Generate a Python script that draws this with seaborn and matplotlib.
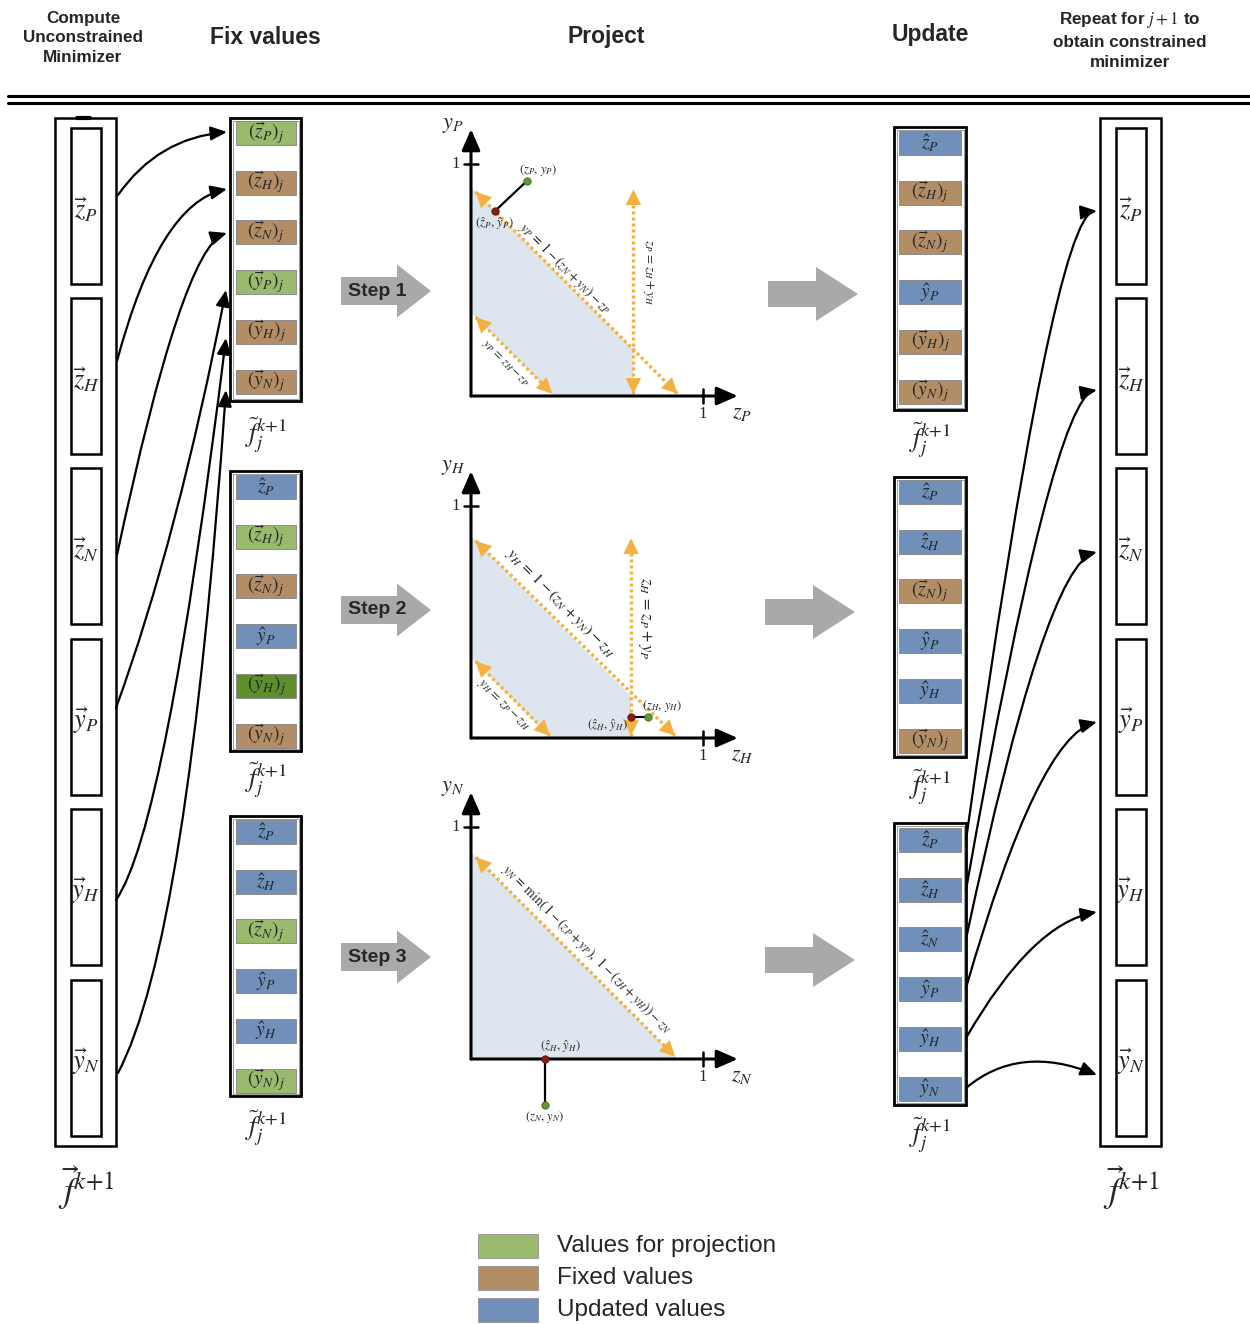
import numpy as np
import pandas as pd
import matplotlib.pyplot as plt
import matplotlib.patches as mpatches
import seaborn as sns

sns.set_theme(style='white')
plt.rcParams['font.family'] = ['Liberation Sans', 'DejaVu Sans']
plt.rcParams['mathtext.fontset'] = 'stix'

W, H = 1250, 1324

GREEN = '#9aba6d'
DGREEN = '#5e8f2c'
BROWN = '#b38d66'
BLUE = '#7090b9'
ORANGE = '#f4b13f'
SHADE = '#dde6ee'
GRAY = '#a9a9a9'
RED = '#8b1d12'
PGREEN = '#5f9a30'

# column headers
headers = ['Compute\nUnconstrained\nMinimizer', 'Fix values', 'Project', 'Update',
           'Repeat for $j+1$ to\nobtain constrained\nminimizer']
header_x = [83, 265, 606, 930, 1130]
header_y = [38, 37, 37, 35, 40]
header_size = [12.3, 16.5, 16.5, 16.5, 12.3]

# components of the state vector
components = ['z_P', 'z_H', 'z_N', 'y_P', 'y_H', 'y_N']

# cell kinds: p = for projection, a = active projection, f = fixed, u = updated
kind_color = {'p': GREEN, 'a': DGREEN, 'f': BROWN, 'u': BLUE}
fix_kinds = [['p', 'f', 'f', 'p', 'f', 'f'],
             ['u', 'p', 'f', 'u', 'a', 'f'],
             ['u', 'u', 'p', 'u', 'u', 'p']]
upd_kinds = [['u', 'f', 'f', 'u', 'f', 'f'],
             ['u', 'u', 'f', 'u', 'u', 'f'],
             ['u', 'u', 'u', 'u', 'u', 'u']]

# legend
legend_labels = ['Values for projection', 'Fixed values', 'Updated values']
legend_colors = [GREEN, BROWN, BLUE]

# projection panels (unit coords)
p1_region_u = [0, 0, 0.70, 0.70, 0.36]
p1_region_v = [0.36, 0.90, 0.20, 0, 0]
p1_lines = [(0.02, 0.88, 0.89, 0.01), (0.02, 0.34, 0.35, 0.01), (0.70, 0.01, 0.70, 0.89)]
p1_orig = (0.241, 0.927)
p1_proj = (0.103, 0.797)
p1_eqs = [r'$y_P\, =\, 1-(z_N+y_N)-z_P$', r'$z_P\, =\, z_H + y_H$', r'$y_P\, =\, z_H - z_P$']

p2_region_u = [0, 0, 0.69, 0.69, 0.345]
p2_region_v = [0.345, 0.87, 0.18, 0, 0]
p2_lines = [(0.02, 0.85, 0.88, 0.01), (0.02, 0.33, 0.34, 0.01), (0.69, 0.01, 0.69, 0.86)]
p2_orig = (0.763, 0.09)
p2_proj = (0.69, 0.09)
p2_eqs = [r'$y_H\, =\, 1-(z_N+y_N)-z_H$', r'$z_H\, =\, z_P + y_P$', r'$y_H\, =\, z_P - z_H$']

p3_region_u = [0, 0, 0.89]
p3_region_v = [0, 0.89, 0]
p3_lines = [(0.02, 0.87, 0.88, 0.01)]
p3_orig = (0.32, -0.2)
p3_proj = (0.32, 0.0)
p3_eqs = [r'$y_N\, =\, \min(\,1-(z_P+y_P),\ 1-(z_H+y_H))-z_N$']

fig = plt.figure(figsize=(W / 100, H / 100), dpi=100)
ax = fig.add_axes([0, 0, 1, 1])
ax.set_xlim(0, W)
ax.set_ylim(H, 0)
ax.axis('off')

for t, x, y, s in zip(headers, header_x, header_y, header_size):
    ax.text(x, y, t, ha='center', va='center', fontsize=s, fontweight='bold',
            linespacing=1.4)

ax.plot([8, 1250], [96, 96], color='black', lw=2.2)
ax.plot([8, 1250], [103, 103], color='black', lw=2.2)

# full vectors (left and right)
vec_tops = [128, 298, 468, 639, 809, 980]
for x0 in [55, 1100]:
    ax.add_patch(mpatches.Rectangle((x0, 118), 61, 1028, fill=False, ec='black', lw=1.8))
    for c, top in zip(components, vec_tops):
        ax.add_patch(mpatches.Rectangle((x0 + 16, top), 30, 156, fill=False, ec='black', lw=1.8))
        ax.text(x0 + 31, top + 82, r'$\vec{%s}_{%s}$' % (c[0], c[2]), ha='center', va='center',
                fontsize=19)
    ax.text(x0 + 31, 1188, r'$\vec{f}^{k{+}1}$', ha='center', va='center', fontsize=26)
ax.plot([77, 90], [118, 118], color='black', lw=3)


def cell_label(c, k):
    if k == 'u':
        return r'$\hat{%s}_{%s}$' % (c[0], c[2])
    return r'$(\vec{%s}_{%s})_j$' % (c[0], c[2])


def draw_stack(x0, bw, top, bottom, first, kinds, cx0, cw, label_y):
    ax.add_patch(mpatches.Rectangle((x0, top), bw, bottom - top, fill=False, ec='black', lw=2.0))
    ax.add_patch(mpatches.Rectangle((x0 + 2.5, top + 2.5), bw - 5, bottom - top - 5, fill=False,
                                    ec='#888888', lw=0.6))
    for i, (c, k) in enumerate(zip(components, kinds)):
        cy = first + i * 49.7
        ax.add_patch(mpatches.Rectangle((cx0, cy - 12), cw, 24, fc=kind_color[k], ec='#8c8c8c', lw=0.7))
        ax.text(cx0 + cw / 2, cy, cell_label(c, k), ha='center', va='center', fontsize=14)
    ax.text(x0 + bw / 2, label_y, r'$\tilde{f}_j^{k{+}1}$', ha='center', va='center', fontsize=19)


fix_tops = [118, 471, 816]
fix_bottoms = [401, 751, 1096]
fix_first = [133, 487, 832]
fix_label_y = [435, 780, 1128]
for t, b, f, k, ly in zip(fix_tops, fix_bottoms, fix_first, fix_kinds, fix_label_y):
    draw_stack(230, 71, t, b, f, k, 236, 60, ly)

upd_tops = [127, 477, 823]
upd_bottoms = [410, 757, 1105]
upd_first = [143, 492, 840]
upd_label_y = [440, 787, 1135]
for t, b, f, k, ly in zip(upd_tops, upd_bottoms, upd_first, upd_kinds, upd_label_y):
    draw_stack(894, 72, t, b, f, k, 899, 62, ly)

# curved arrows (start angle, end angle in degrees)
left_start = [(118, 195), (117, 361), (117, 555), (116, 708), (116, 900), (118, 1073)]
left_end = [(227, 132), (227, 189), (227, 233), (226, 290), (226, 338), (226, 390)]
left_angles = [(55, 5), (75, 12), (78, 18), (70, 79), (55, 83), (62, 86)]
right_start = [(966, 840), (966, 890), (966, 939), (966, 988), (966, 1038), (966, 1088)]
right_end = [(1097, 211), (1097, 390), (1097, 552), (1097, 722), (1097, 912), (1097, 1075)]
right_angles = [(82, 5), (80, 10), (78, 14), (74, 14), (60, 10), (40, -22)]
for s, e, (a, b) in zip(left_start + right_start, left_end + right_end, left_angles + right_angles):
    ax.annotate('', xy=e, xytext=s,
                arrowprops=dict(arrowstyle='-|>,head_length=0.7,head_width=0.3',
                                connectionstyle='angle3,angleA=%s,angleB=%s' % (a, b), lw=1.6,
                                color='black', mutation_scale=14, shrinkA=0, shrinkB=0))

# block arrows
step_y = [291, 610, 957]
for i, y in enumerate(step_y):
    ax.add_patch(mpatches.FancyArrow(341, y, 90, 0, width=28, head_width=53, head_length=34,
                                     length_includes_head=True, color=GRAY, lw=0))
    ax.text(377, y, 'Step %d' % (i + 1), ha='center', va='center', fontsize=14, fontweight='bold')
upd_arrow_y = [294, 612, 960]
upd_arrow_x = [768, 765, 765]
for x, y in zip(upd_arrow_x, upd_arrow_y):
    ax.add_patch(mpatches.FancyArrow(x, y, 90, 0, width=26, head_width=54, head_length=42,
                                     length_includes_head=True, color=GRAY, lw=0))

# projection panels
S = 232
UMIN, UMAX, VMIN, VMAX = -0.2, 1.3, -0.35, 1.25


def panel_axes(ox, oy):
    rect = [(ox + UMIN * S) / W, (H - oy + VMIN * S) / H, (UMAX - UMIN) * S / W, (VMAX - VMIN) * S / H]
    pax = fig.add_axes(rect)
    pax.set_xlim(UMIN, UMAX)
    pax.set_ylim(VMIN, VMAX)
    pax.axis('off')
    pax.patch.set_alpha(0)
    return pax


def head(pax, tip, frm, color):
    pax.annotate('', xy=tip, xytext=frm,
                 arrowprops=dict(arrowstyle='-|>,head_length=0.8,head_width=0.4', color=color,
                                 lw=0, shrinkA=0, shrinkB=0, mutation_scale=14))


def draw_panel(pax, reg_u, reg_v, lines, orig, proj, sub):
    pax.fill(reg_u, reg_v, color=SHADE, lw=0, zorder=0)
    for u0, v0, u1, v1 in lines:
        sns.lineplot(x=[u0, u1], y=[v0, v1], ax=pax, color=ORANGE, lw=2.4,
                     linestyle=(0, (0.9, 0.9)), estimator=None, sort=False, zorder=2)
        d = np.array([u1 - u0, v1 - v0])
        d = d / np.linalg.norm(d) * 0.01
        head(pax, (u1, v1), (u1 - d[0], v1 - d[1]), ORANGE)
        head(pax, (u0, v0), (u0 + d[0], v0 + d[1]), ORANGE)
    for tip in [(1.15, 0), (0, 1.15)]:
        pax.annotate('', xy=tip, xytext=(0, 0),
                     arrowprops=dict(arrowstyle='-|>,head_length=0.8,head_width=0.35', lw=2.2,
                                     color='black', mutation_scale=16, shrinkA=0, shrinkB=0))
    pax.plot([1, 1], [-0.03, 0.03], color='black', lw=1.8)
    pax.plot([-0.03, 0.03], [1, 1], color='black', lw=1.8)
    pax.text(1.0, -0.078, '1', ha='center', va='center', fontsize=12, family='Liberation Serif')
    pax.text(-0.065, 1.0, '1', ha='center', va='center', fontsize=12, family='Liberation Serif')
    pax.text(1.17, -0.07, r'$z_{%s}$' % sub, ha='center', va='center', fontsize=16)
    pax.text(-0.078, 1.17, r'$y_{%s}$' % sub, ha='center', va='center', fontsize=16)
    pax.plot([proj[0], orig[0]], [proj[1], orig[1]], color='black', lw=1.6, zorder=4)
    sns.scatterplot(x=[proj[0]], y=[proj[1]], ax=pax, color=RED, s=28, edgecolor='#5a120b',
                    linewidth=0.6, zorder=5)
    sns.scatterplot(x=[orig[0]], y=[orig[1]], ax=pax, color=PGREEN, s=28, edgecolor='#3d6a1c',
                    linewidth=0.6, zorder=5)
    pax.set_xlim(UMIN, UMAX)
    pax.set_ylim(VMIN, VMAX)
    pax.axis('off')


panel_origins = [(471, 396), (471, 738), (471, 1059)]
pax1 = panel_axes(*panel_origins[0])
draw_panel(pax1, p1_region_u, p1_region_v, p1_lines, p1_orig, p1_proj, 'P')
pax1.text(0.289, 0.974, r'$(z_P,\, y_P)$', ha='center', va='center', fontsize=9)
pax1.text(0.103, 0.742, r'$(\hat{z}_P,\, \hat{y}_P)$', ha='center', va='center', fontsize=9)
pax1.text(0.405, 0.552, p1_eqs[0], rotation=-45, ha='center', va='center', fontsize=9.8)
pax1.text(0.763, 0.534, p1_eqs[1], rotation=-90, ha='center', va='center', fontsize=9.3)
pax1.text(0.147, 0.142, p1_eqs[2], rotation=-45, ha='center', va='center', fontsize=8.8)

pax2 = panel_axes(*panel_origins[1])
draw_panel(pax2, p2_region_u, p2_region_v, p2_lines, p2_orig, p2_proj, 'H')
pax2.text(0.823, 0.138, r'$(z_H,\, y_H)$', ha='center', va='center', fontsize=9)
pax2.text(0.59, 0.052, r'$(\hat{z}_H,\, \hat{y}_H)$', ha='center', va='center', fontsize=9)
pax2.text(0.384, 0.582, p2_eqs[0], rotation=-45, ha='center', va='center', fontsize=11.5)
pax2.text(0.75, 0.517, p2_eqs[1], rotation=-90, ha='center', va='center', fontsize=12)
pax2.text(0.138, 0.142, p2_eqs[2], rotation=-45, ha='center', va='center', fontsize=9.5)

pax3 = panel_axes(*panel_origins[2])
draw_panel(pax3, p3_region_u, p3_region_v, p3_lines, p3_orig, p3_proj, 'N')
pax3.text(0.384, 0.052, r'$(\hat{z}_H,\, \hat{y}_H)$', ha='center', va='center', fontsize=9)
pax3.text(0.32, -0.25, r'$(z_N,\, y_N)$', ha='center', va='center', fontsize=9)
pax3.text(0.5, 0.474, p3_eqs[0], rotation=-45, ha='center', va='center', fontsize=9.8)

# legend
for i, (lab, col) in enumerate(zip(legend_labels, legend_colors)):
    y = 1246 + i * 32
    ax.add_patch(mpatches.Rectangle((478, y - 12), 60, 24, fc=col, ec='#9a9a9a', lw=0.7))
    ax.text(557, y, lab, ha='left', va='center', fontsize=17.5)

fig.savefig('out.png', dpi=100)
